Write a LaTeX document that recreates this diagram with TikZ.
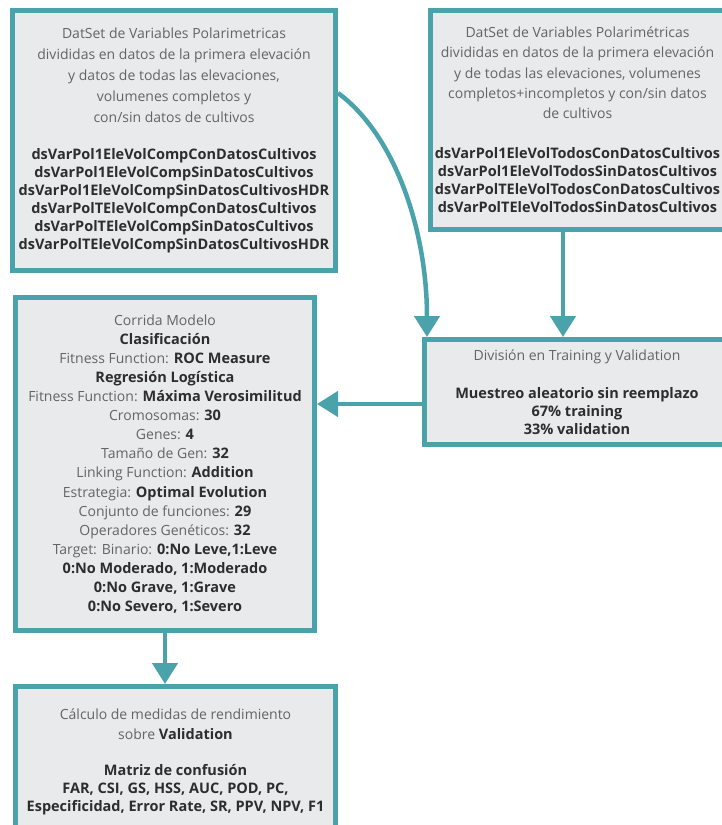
\documentclass[tikz,border=0pt]{standalone}
\usepackage{fontspec}
\setmainfont{Open Sans}
\usetikzlibrary{arrows.meta}
\definecolor{tealline}{RGB}{74,162,170}
\definecolor{boxfill}{RGB}{233,234,236}
\definecolor{txtreg}{RGB}{100,100,100}
\definecolor{txtbold}{RGB}{45,45,45}
% bold, darker, slightly larger run of text
\newcommand{\bt}[1]{{\fontsize{14.5}{18}\selectfont\bfseries\color{txtbold}#1}}
\tikzset{
  flowbox/.style={draw=tealline, line width=5pt, fill=boxfill, align=center,
    text=txtreg, inner sep=0pt,
    font=\fontsize{14}{18}\selectfont},
  loosebox/.style={flowbox, font=\fontsize{14}{19.1}\selectfont},
  conn/.style={draw=tealline, line width=4.5pt,
    -{Triangle[width=25pt,length=21pt]}}
}
\begin{document}
\begin{tikzpicture}[x=1pt,y=-1pt]
\clip (0,0) rectangle (722,825);
\fill[white] (0,0) rectangle (722,825);

% source data sets
\node[flowbox, minimum width=323pt, minimum height=260pt] (src1) at (174,140.5) {%
DatSet de Variables Polarimetricas\\[3pt]
divididas en datos de la primera elevación\\[3pt]
y datos de todas las elevaciones,\\[3pt]
volumenes completos y\\[3pt]
con/sin datos de cultivos\\[19pt]
\bt{dsVarPol1EleVolCompConDatosCultivos}\\
\bt{dsVarPol1EleVolCompSinDatosCultivos}\\
\bt{dsVarPol1EleVolCompSinDatosCultivosHDR}\\
\bt{dsVarPolTEleVolCompConDatosCultivos}\\
\bt{dsVarPolTEleVolCompSinDatosCultivos}\\
\bt{dsVarPolTEleVolCompSinDatosCultivosHDR}};

\node[flowbox, minimum width=294pt, minimum height=219pt] (src2) at (577.5,120) {%
DatSet de Variables Polarimétricas\\[2.3pt]
divididas en datos de la primera elevación\\[2.3pt]
y de todas las elevaciones, volumenes\\[2.3pt]
completos+incompletos y con/sin datos\\[2.3pt]
de cultivos\\[22pt]
\bt{dsVarPol1EleVolTodosConDatosCultivos}\\
\bt{dsVarPol1EleVolTodosSinDatosCultivos}\\
\bt{dsVarPolTEleVolTodosConDatosCultivos}\\
\bt{dsVarPolTEleVolTodosSinDatosCultivos}};

% sampling step
\node[flowbox, minimum width=305pt, minimum height=105pt] (split) at (577,392) {%
División en Training y Validation\\[20pt]
\bt{Muestreo aleatorio sin reemplazo}\\
\bt{67\% training}\\
\bt{33\% validation}};

% model run
\node[loosebox, minimum width=299pt, minimum height=333pt] (model) at (165,464) {%
Corrida Modelo\\
\bt{Clasificación}\\
Fitness Function: \bt{ROC Measure}\\
\bt{Regresión Logística}\\
Fitness Function: \bt{Máxima Verosimilitud}\\
Cromosomas: \bt{30}\\
Genes: \bt{4}\\
Tamaño de Gen: \bt{32}\\
Linking Function: \bt{Addition}\\
Estrategia: \bt{Optimal Evolution}\\
Conjunto de funciones: \bt{29}\\
Operadores Genéticos: \bt{32}\\
Target: Binario: \bt{0:No Leve,1:Leve}\\
\bt{0:No Moderado, 1:Moderado}\\
\bt{0:No Grave, 1:Grave}\\
\bt{0:No Severo, 1:Severo}};

% performance measures
\node[flowbox, minimum width=320pt, minimum height=150pt] (metrics) at (175.5,761.5) {%
Cálculo de medidas de rendimiento\\[2pt]
sobre \bt{Validation}\\[18pt]
\bt{Matriz de confusión}\\
\bt{FAR, CSI, GS, HSS, AUC, POD, PC,}\\
\bt{Especificidad, Error Rate, SR, PPV, NPV, F1}};

% connectors
\draw[conn] (src1.east |- 0,93) .. controls (395,135) and (427,230) .. (split.north -| 427,0);
\draw[conn] (src2.south -| 563,0) -- (split.north -| 563,0);
\draw[conn] (split.west |- 0,404) -- (model.east |- 0,404);
\draw[conn] (model.south) -- (metrics.north -| model.south);
\end{tikzpicture}
\end{document}
